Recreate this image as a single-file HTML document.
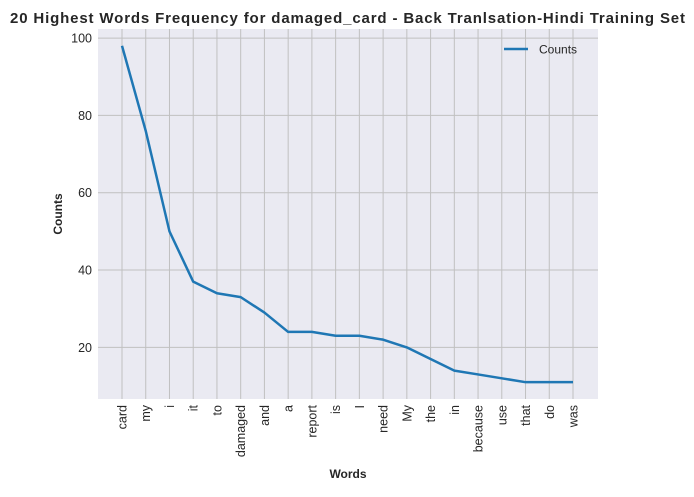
<!DOCTYPE html>
<html><head><meta charset="utf-8"><style>
body{margin:0;background:#fff;font-family:"Liberation Sans",Arial,sans-serif}
svg text{font-family:"Liberation Sans",Arial,sans-serif}
</style></head><body>
<svg width="694" height="492" viewBox="0 0 694 492">
<text x="10" y="23" textLength="675" lengthAdjust="spacing" font-size="15" font-weight="bold" fill="#262626">20 Highest Words Frequency for damaged_card - Back Tranlsation-Hindi Training Set</text>
<rect x="98" y="29" width="500" height="370" fill="#eaeaf2"/>
<g id="grid"></g>
<g id="ticks"></g>
<path id="line" fill="none" stroke="#1f77b4" stroke-width="2.5" stroke-linejoin="round"/>
<text x="62" y="214" text-anchor="middle" font-size="12" font-weight="bold" fill="#262626" transform="rotate(-90 62 214)">Counts</text>
<text x="348" y="478" text-anchor="middle" font-size="12" font-weight="bold" fill="#262626">Words</text>
<g>
<line x1="504" y1="49" x2="528" y2="49" stroke="#1f77b4" stroke-width="2.5"/>
<text x="539" y="53.5" font-size="12" fill="#262626">Counts</text>
</g>
</svg>
<script>
const categories=["card","my","i","it","to","damaged","and","a","report","is","I","need","My","the","in","because","use","that","do","was"];
const counts=[98,76,50,37,34,33,29,24,24,23,23,22,20,17,14,13,12,11,11,11];
const yTicks=[20,40,60,80,100];
const NS="http://www.w3.org/2000/svg";
const x0=122,x1=573,yMin=6.65,yMax=102.35,plotTop=29,plotBot=399;
const X=i=>x0+i*(x1-x0)/(categories.length-1);
const Y=v=>plotBot-(v-yMin)/(yMax-yMin)*(plotBot-plotTop);
const grid=document.getElementById('grid'),ticks=document.getElementById('ticks');
function mk(t,a,p){const e=document.createElementNS(NS,t);for(const k in a)e.setAttribute(k,a[k]);p.appendChild(e);return e;}
categories.forEach((c,i)=>{
 const g=mk('line',{x1:X(i),x2:X(i),y1:plotTop,y2:plotBot,stroke:'#c0c0c0','stroke-width':1},grid);
 
 
 const t=mk('text',{x:0,y:0,'font-size':12.5,fill:'#262626','text-anchor':'end',transform:`translate(${X(i)+4.5},${plotBot+6}) rotate(-90)`},ticks);
 t.textContent=c;
 
 
});
yTicks.forEach(v=>{
 const g=mk('line',{x1:98,x2:598,y1:Y(v),y2:Y(v),stroke:'#c0c0c0','stroke-width':1},grid);
 
 
 const t=mk('text',{x:92,y:Y(v)+4.5,'font-size':12.5,fill:'#262626','text-anchor':'end'},ticks);
 t.textContent=v;
 
 
});
document.getElementById('line').setAttribute('d',counts.map((v,i)=>(i?'L':'M')+X(i)+' '+Y(v)).join(' '));
</script>
</body></html>
